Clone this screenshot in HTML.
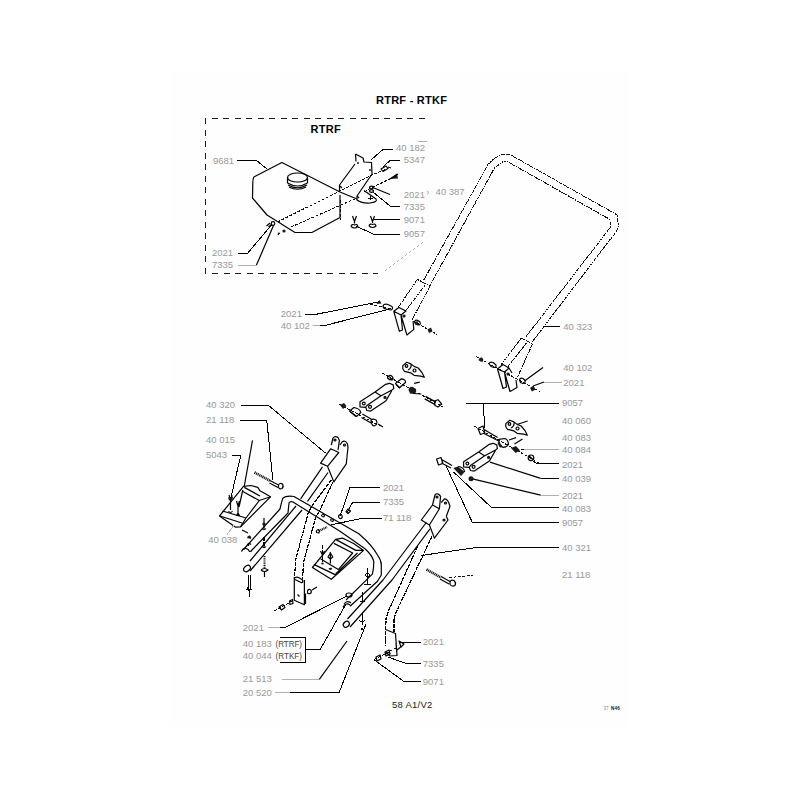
<!DOCTYPE html>
<html><head><meta charset="utf-8"><style>
html,body{margin:0;padding:0;background:#fff;width:800px;height:800px;overflow:hidden;}
svg{display:block;}
path,ellipse,circle,line{shape-rendering:geometricPrecision;}
.d,.q,.p,.k,.g{shape-rendering:crispEdges;}
text{font-family:"Liberation Sans",sans-serif;}
.t{font-size:9.5px;fill:#999;letter-spacing:0;}
.b{font-size:11px;font-weight:bold;fill:#000;letter-spacing:0.25px;}
.l{stroke:#000;stroke-width:1.2;fill:none;stroke-linejoin:round;}
.g{stroke:#b0b0b0;stroke-width:1;fill:none;}
.d{stroke:#111;stroke-width:1;fill:none;stroke-dasharray:2 0.6;}
.k{stroke:#1a1a1a;stroke-width:1;fill:none;stroke-dasharray:6 5.5;}
.p{stroke:#111;stroke-width:1;fill:none;stroke-dasharray:3 1.5;}
.f{fill:#1a1a1a;stroke:none;}
.q{stroke:#000;stroke-width:1.2;fill:none;stroke-dasharray:4 0.8;}
.w{stroke:#1a1a1a;stroke-width:1;fill:#fff;}
.c{shape-rendering:crispEdges;stroke-width:1;}
</style></head><body>
<svg width="800" height="800" viewBox="0 0 800 800">
<rect x="170" y="72" width="459" height="655" fill="#fefefe"/>
<!-- headers -->
<text class="b" x="376" y="103.8">RTRF - RTKF</text>
<text class="b" x="310.6" y="133.4">RTRF</text>
<!-- dashed box -->
<path class="k" d="M205.5 273.5 V118.5 H428"/>
<path class="k" d="M212 273.5 H378"/>

<!-- TANK 9681 -->
<path class="l" d="M253.8 177 L281.9 162.5 L340 192"/>
<path class="l" d="M253.8 177 Q252.8 179 252.8 183 L252.5 198 L267 215 L295 232.5 L311.9 232.5 L340 217.5 L340 195"/>
<ellipse class="l" cx="297.5" cy="177.5" rx="10" ry="4.5"/>
<path class="l" d="M287.5 177.5 V183 M307.5 177.5 V183 M287.5 183 Q297.5 189 307.5 183 M288 185 Q297.5 190.5 307 185 M289 187 Q297.5 191.5 306 187"/>
<path class="p" d="M277.5 222 L372 175 L386 169"/>
<path class="p" d="M291 227 L357 198"/>
<path class="p" d="M340 200 V220"/>
<!-- bracket 40 182 -->
<path class="l" d="M355.5 154 L363 158 L364 162 L371.5 162.5 L372 174 L357 196 L357 200 Q362 203.5 370 203 Q378 202 376 199 L364 190.5"/>
<path class="l" d="M355.5 154 L356 161.5 M355 164 L339.5 185 L339.5 191 M340 192 L357 199 M340 186 L342 188 M357 196 L359 198"/>
<circle class="f" cx="358" cy="163" r="1"/><circle class="f" cx="370" cy="170" r="1"/><path class="l c" d="M368 198 H373 M370.5 196 V200"/>
<path class="p" d="M395 176.5 L372 187.5 L364 192"/>
<!-- small parts box -->
<path class="l" d="M381 169 L386 166 L388 168.5 L383 171.5 Z M388 167 L391 168"/>
<path class="f" d="M389.5 179 L397 173.5 L398 178.5 Z"/><path class="l" d="M389 179.5 L398 174"/>
<ellipse class="l" cx="371.5" cy="187.5" rx="2" ry="1.3"/><ellipse class="l" cx="371.5" cy="191" rx="2" ry="1.3"/>
<path class="l" d="M352.5 216 L354.5 221.5 L356.5 216 M354.5 221.5 V223.5 M351 226.5 Q352 223.5 354.5 225 Q357 223.5 358 226.5 Q354.5 229.5 351 226.5 M370.5 216 L372.5 221.5 L374.5 216 M372.5 221.5 V223 M369 226 Q370 223 372.5 224.5 Q375 223 376 226 Q372.5 229 369 226"/>
<path class="l" d="M266.5 226 L270 223 M268.5 227 L272 224"/><circle class="l" cx="273" cy="223.5" r="1.8"/><path class="l" d="M278.5 235 Q277.5 232.5 280 233.5"/><circle class="f" cx="284" cy="231" r="1.6"/>
<!-- tank leaders -->
<path class="l c" d="M237.3 160.3 H256.3 L267.5 169.4"/>
<path class="l c" d="M237.6 253.2 H247.6 L271.8 224.6"/>
<path class="g" d="M237.6 265.2 H256.4"/><path class="l" d="M256.4 265.2 L273.5 225.5"/>
<path class="l c" d="M371 160 L383 149.5 H392.5"/>
<path class="l c" d="M383 167 L390 160.5 H400"/>
<path class="l" d="M374 188 L390 194.5"/>
<path class="l c" d="M373 192 L390 206 H400"/>
<path class="l c" d="M373 219.4 H400"/>
<path class="l c" d="M356 226 L373 234 H400"/>
<path class="g" d="M417.5 141.5 H427.3"/>
<!-- faint dotted leader -->
<path class="g" stroke-dasharray="2 3" d="M385 270.6 L425 241"/>
<text class="t" x="213" y="163.8">9681</text>
<text class="t" x="212" y="256">2021</text>
<text class="t" x="212" y="268">7335</text>
<text class="t" x="396" y="150.6">40 182</text>
<text class="t" x="403.8" y="163.1">5347</text>
<text class="t" x="403.8" y="198">2021</text>
<path d="M427 191 L429 192.5 L427 194" stroke="#aaa" fill="none"/>
<text class="t" x="435.6" y="195">40 387</text>
<text class="t" x="403.8" y="210">7335</text>
<text class="t" x="403.8" y="222.8">9071</text>
<text class="t" x="403.8" y="237">9057</text>

<!-- HANDLE -->
<path class="d" d="M423.8 280 L488.1 164.4 L493.8 158.8 L501.9 154.4 L509.7 154.4 L616.3 214.4 L617.8 216.9 L618.1 226.3 L616.9 230.6 L531.8 342.5"/>
<path class="d" d="M430 285.5 L494.4 168.1 L502.5 161.9 L507.5 161.6 L608.8 218.8 L610 221.3 L610.3 227.5 L608.8 229.4 L525 338"/>
<!-- left sleeve & bracket -->
<path class="d" d="M417.5 279.4 L430 286.3 M417.5 279.4 L398.1 307.5 M430 286.3 L411.3 321.3 M425 285.5 L405 311.3"/>
<path class="l" d="M393.8 311.3 L398.8 307.5 L406 311 L401 315 Z M393.8 311.3 L399.4 331.3 L402.5 330 L401 315 M401 315 L406.9 335 L413.8 329.4 L413.1 321.3"/>
<circle class="l" cx="404" cy="316" r="1"/>
<path class="p" d="M370 304.4 L392 309 M413 321 L437 334.4"/>
<path class="f" d="M376.5 304 L379.5 300 L381.5 303.5 Z"/><path class="l" d="M383 306 Q384 303.5 388 304.5 L392 306.5 Q393.5 309 391 310 L386 309 Q383 308.5 383 306 Z"/>
<path class="l" d="M414.5 322 Q415 319.5 418 320.5 L420 322 Q421 325 418.5 325 L416 324.5 Z"/><path class="f" d="M415 322 L417.5 321 L418.5 324.5 L416 325 Z M427.5 329.5 L431 327.5 L432.5 331.5 L429 333 Z"/>
<!-- right sleeve & bracket -->
<path class="d" d="M521.3 338 L532.5 344 M521.3 338 L501 365 M532.5 344 L517.5 377 M528 341 L507 368"/>
<path class="l" d="M497.5 369 L503 364.5 L509 368 L504.5 372 Z M497.5 369 L503 388.5 L506.5 387 L504.5 372 M505 374 L510 391.5 L517 387.5 L516 380 M509 368 L512 373"/>
<circle class="l" cx="508" cy="374" r="1"/>
<path class="p" d="M475.8 356.3 L540.5 392.1"/>
<path class="f" d="M478.5 360 Q479 357 482 357.5 Q484 359 483 361.5 Q480.5 362.5 478.5 360 Z"/><path class="l" d="M489 363.5 Q490 361.5 493 362.5 L496 365 Q496.5 367.5 494 367.5 L491 366.5 Z"/><path class="l" d="M519.5 380 Q520 377.5 523 378.5 L525 380.5 Q525.5 383.5 523 383.5 L520.5 382.5 Z"/><path class="f" d="M530 388 L533.5 385.5 L535.5 389.5 L532 391.5 Z"/>
<!-- handle leaders -->
<path class="l c" d="M304.5 314.2 H316.5 L379.5 301.8"/>
<path class="g" d="M312.8 325.5 H320"/><path class="l c" d="M320 325.5 H324.8 L388.5 309.3"/>
<path class="l c" d="M543.8 326 H560.3"/>
<path class="l" d="M543 367.6 L524.8 380.8"/>
<path class="l" d="M533 386 L544 382"/><path class="g" d="M544 382 H561.5"/>
<text class="t" x="280.8" y="317.2">2021</text>
<text class="t" x="280.8" y="328.8">40 102</text>
<text class="t" x="563.3" y="329.8">40 323</text>
<text class="t" x="563.3" y="371">40 102</text>
<text class="t" x="563.3" y="386">2021</text>

<!-- MIDDLE LINKAGE -->
<path class="l" d="M402.8 365.6 L406.8 362.3 L410.9 363.9 L414.1 366.4 L418.2 368 L422.2 372.9 L424.3 377.3 L420.6 376.1 L414.1 375.3 L410.9 372.9 L404.4 371.3 L402.8 368.8 Z M410.9 363.9 Q412 368 408 370"/>
<circle class="l" cx="406.5" cy="366" r="1.3"/><circle class="l" cx="414.5" cy="370.5" r="1.5"/>
<path class="p" d="M382.5 373.3 L442.5 406.6"/>
<path class="l" d="M387.5 378 Q388 375 391 375.5 Q393.5 377 393 379.5 Q390.5 381 387.5 378 Z M389.5 376.5 L391.5 379.5"/>
<path class="l" d="M395.5 383.5 L401.5 378.8 Q406 379.5 405.5 382.5 L399.5 387.8 Z"/><path class="l" stroke-width="1.6" d="M396 384.5 L400 388"/>
<path class="f" d="M408.5 390 Q409 386.5 412.5 386.8 L416 389 Q417 392.5 414 394 L410 393.5 Z"/><path class="l" d="M414.1 383.4 L419.8 382.2"/><path class="l" stroke-width="1.6" d="M413.3 393.5 L421.4 394"/>
<path class="l" d="M425.5 396.4 L436 402.1 M424.7 398.9 L435.2 404.6"/><path class="l" d="M434.4 401 L438 399.7 L441.7 404 L438 407 L435 405.5 Z"/>
<path class="l" d="M360.0 401.8 L375.0 392.1 L385.7 384.3 L389.4 383.3 L393.2 384.9 L393.8 388.6 L391.9 389.9 L380.7 396.1 L366.9 405.5 L365.7 407.4 L360.0 406.8 Z M365.7 407.4 L366.9 410.5 L370.7 411.1 L385.7 401.1 L391.9 390.5 M375.0 392.1 L381.3 396.1"/>

<circle class="l" cx="363.8" cy="403.6" r="1.4"/><circle class="l" cx="370" cy="406.8" r="1.5"/><circle class="f" cx="385" cy="397.4" r="1.6"/>
<path class="p" d="M339 404 L380 426"/>
<path class="f" d="M340 405 L344 403 L346.5 406 L343 409 Z"/>
<path class="l" d="M349.5 411 L354 407.5 Q360 408.5 360.8 412.5 L356.5 416.5 Z"/><path class="l" stroke-width="1.8" d="M350 411.5 L356 416.5"/>
<path class="l" d="M362.3 414 L372 419.5 M361.5 417.5 L371 423"/><path class="l" d="M371 420 Q374 418 376.5 420.5 Q378 424.5 374 426 Q371 425 371 420 Z M378 424 L383 427"/>

<!-- RIGHT LINKAGE -->
<path class="l c" d="M465.5 403.3 H558.8 M483 403.3 L485 428"/>
<path class="l" d="M478 428.5 L483 426 L484.8 433 L480.4 434.5 Z M484 429.5 L497.6 437.6 M483 433 L498.8 441"/>
<path class="l" d="M498.8 439.4 L505 438.5 Q508.5 440 508.4 444.5 Q507 447.3 503 447.3 L499.5 446 Z"/><path class="f" d="M498.5 441 L503 447 L500 447.5 L497.5 443 Z"/>
<path class="f" d="M511 448 L516 446 L520 450.5 L515.5 453 Z"/>
<path class="l" d="M509 440 L516 437.6 M514.5 444 L522.5 439"/>
<path class="p" d="M474 426 L539 463"/>
<circle class="l" cx="531" cy="457.8" r="2.8"/><path class="l" d="M529 456 L533 459.5"/>
<path class="l" d="M505.8 423.6 L509.8 420.3 L513.9 421.9 L517.1 424.4 L521.2 426.0 L525.2 430.9 L527.3 435.3 L523.6 434.1 L517.1 433.3 L513.9 430.9 L507.4 429.3 L505.8 426.8 Z M513.9 421.9 Q515.0 426.0 511.0 428.0"/>
<circle class="l" cx="509.5" cy="424" r="1.3"/><circle class="l" cx="517.5" cy="428.5" r="1.5"/>
<path class="l" d="M517 424.5 L527.6 421"/>
<path class="l" d="M463.6 461.8 L478.6 452.1 L489.3 444.3 L493 443.3 L496.8 444.9 L497.4 448.6 L495.5 449.9 L484.3 456.1 L470.5 465.5 L469.3 467.4 L463.6 466.8 Z M469.3 467.4 L470.5 470.5 L474.3 471.1 L489.3 461.1 L495.5 450.5 M478.6 452.1 L484.9 456.1"/>

<circle class="l" cx="467.4" cy="463.6" r="1.4"/><circle class="l" cx="473.6" cy="466.8" r="1.5"/><circle class="f" cx="488.6" cy="457.4" r="1.6"/>
<path class="l" d="M436.6 459 L441 457.5 L442.8 463.5 L438.5 465 Z M442 459.8 L452 465.5 M441.5 463 L451 468"/>
<path class="f" d="M453.3 468 L458 466.5 L464.6 472 L461 476 Z"/><path class="l" d="M458 466.5 Q464 467 464.6 472"/>
<circle class="f" cx="471" cy="478.8" r="2.5"/>
<path class="l" d="M490 462.1 L540.7 478.4 M472.5 478.8 L540.7 495.2"/>
<path class="l c" d="M520.6 449.4 H524"/><path class="g" d="M524 449.4 H558.8"/>
<path class="l c" d="M533 461 L536.3 463.1 H558.8"/>
<path class="l c" d="M540.7 478.4 H558.5"/>
<path class="g" d="M540.7 495.2 H558.5"/>
<path class="l c" d="M453.3 471.8 L491.8 507.8 H558.5"/>
<path class="l c" d="M446.3 466.5 L472.5 522.8 H558.5"/>
<text class="t" x="562" y="406">9057</text>
<text class="t" x="562" y="424">40 060</text>
<text class="t" x="562" y="441">40 083</text>
<text class="t" x="562" y="452.5">40 084</text>
<text class="t" x="562" y="468">2021</text>
<text class="t" x="562" y="482">40 039</text>
<text class="t" x="562" y="499">2021</text>
<text class="t" x="562" y="511.7">40 083</text>
<text class="t" x="562" y="526.3">9057</text>
<text class="t" x="562" y="551">40 321</text>
<text class="t" x="562" y="578.3">21 118</text>

<!-- LEFT FRAME 40 320 -->
<path class="l c" d="M240.5 405.3 H268.3 L325.6 453.1"/>
<path class="l" d="M331.3 445 L333 438 Q335 435.5 338 437.5 L339.4 440.6 L338 450 M340 445 L342 442 Q345 439.5 347.5 444 L348 447.5 L346.9 457.5"/>
<circle class="l" cx="335" cy="440" r="1"/><circle class="l" cx="344.5" cy="445" r="1"/>
<path class="l" d="M320.6 463.1 L330.6 448.8 L338.8 452.5 L327.5 466.3 Z M327.5 466.3 L333.8 481.9 L346.3 463.8 L346.9 457.5"/>
<path class="l" d="M322.5 466.9 L300.6 498.8 M328 472.5 L307.5 501.3"/>
<path class="q" d="M331.3 480 L312.5 505 L308.3 512.8 L296 558.3 L294.4 577.8 M333 482 L320 510 L315.6 517.6 L303.4 563 L302.6 578.6"/>
<path class="l" d="M294.3 577 V600.3 L304.4 604.8 V580 M294.3 578.5 Q296 576 299.5 578 L302.5 580 Q303.5 583 301 582.5 L295 579.5 M305.5 593.5 V604 M297.5 594.5 L299.5 596.5"/>
<path class="l" d="M307.5 593 Q307 589 310 589.5 Q312 590.5 311 593 Q309 594.5 307.5 593 Z M312 590 L317 587"/>
<path class="p" d="M274 611 L294 600"/>
<path class="l" d="M279 607 L283 604.5 L285 607.5 L281.5 610 Z M289.5 601 L292.5 599.5 L293 603.5 L290 604.5 Z"/>
<!-- left footplate 40 038 -->
<path class="l" d="M219.5 516 L243.5 486.3 L251 485.5 L257.8 487.4 L260 490.8 L270.5 496.8 L240.5 526.8 L235.3 527.1 Z"/>
<path class="l" d="M244.3 487.4 L260 496 M242.8 491.5 L259.3 500.5 L270.5 496.8 M259.3 500.5 L246 518 M222.5 511 L246 518 L240.5 526.8 M220 516 L242 523"/>
<path stroke="#111" stroke-width="2.6" stroke-dasharray="1.1 0.7" fill="none" d="M254.5 472.5 L270.5 481"/><path class="l" d="M270 480.5 L278.5 485 M269.5 483 L278 487.5"/><path class="l" d="M278.5 485 Q279.5 482.5 282.5 484 Q284 487 282 488.5 Q279 489.5 278.5 487 Z"/>
<path class="l c" d="M239.8 420.5 H266.8 L272.8 480"/>
<path class="l" d="M252.5 440.3 L244.3 486"/>
<path class="l c" d="M231.5 455.3 H240.8 L230.8 498"/>
<path class="l" d="M229 495 L230.5 500 L232 495 M230.5 500 V510 M228.5 511 Q230.5 514 232.5 511 M236.5 501 L238 506 L239.5 501 M238 506 V514 M236.5 515.5 L238 513 L239.5 515.5 Z M242.8 490 L239 507"/><path class="f" d="M228 497.5 L233 496.5 L232.5 500 L229 500.5 Z"/>

<path class="g" d="M227 534.5 L233.8 525.5"/><path class="l" d="M242 530 L248 533"/>
<text class="t" x="206" y="408">40 320</text>
<text class="t" x="206" y="423">21 118</text>
<text class="t" x="206" y="442.8">40 015</text>
<text class="t" x="206" y="458.3">5043</text>
<text class="t" x="208.3" y="542.8">40 038</text>

<!-- U-TUBE -->
<path class="l" d="M243.5 549.5 L280 509 Q282 500 283 498 Q286 495.5 294 496.5 L358.8 533.8 Q372 545 377.5 555 Q381.3 560 381.3 565 L381.3 575 L377.5 581.3 L350 606.3"/>
<path class="l" d="M251 551 L288 513 L289 503 Q290 501 293 502 L340 531.3 L365 548.8 Q372 555 373.8 561.3 Q373.8 568 372.5 573.8 L365 581.3 L346 600"/>
<path class="l" d="M250 561 L296 506 M250 571 L302 510"/>
<ellipse class="l" cx="247" cy="568.5" rx="3.8" ry="2.6" transform="rotate(-40 247 568.5)"/>
<path class="l" d="M241.5 551.5 Q243 548 246 548.5 Q248.5 549 249.5 551.5 L252 551 M248.5 543 V546 M247 545 Q249 542.5 251 544.5"/><path class="f" d="M247 538 Q247.5 535 250 535.5 Q252 537 251 539 Z"/>
<path class="l" d="M264 518 V529 M262 528.5 Q264 531 266 528.5 M264 546 V548 M262 546.5 Q264 549 266 546.5 M261 570 Q264.5 567 268 570 Q264.5 573 261 570 M264.5 572 V577"/><path class="q" d="M264 537 V546"/><path stroke="#111" stroke-width="2" stroke-dasharray="1 0.8" fill="none" d="M264.5 556 V568"/><path class="f" d="M262 524 Q264 521 266 524 L264 526.5 Z"/>
<path class="l c" d="M248 575 V589 M250 575 V589 M246 589 H252 M249 589 V597 M247 587 L249 591 L251 587"/>
<!-- mid footplate -->
<path class="l" d="M312.4 567.5 L335.6 539.4 L342.6 538.1 L347 540.3 L354 543.8 L363.6 550.4 L331.3 579.3 Z M335.6 539.4 L355.8 550.4 L363.6 550.4 M333.9 543.4 L352.7 553 L338.3 569.6 M320.8 559.1 L338.3 569.6 M313.8 564.4 L335.6 574.9 M357.5 553 L335.6 574"/>
<path class="q" d="M322.5 545 V562"/><path class="l" d="M320.5 551 L322.5 555 L324.5 551 M330.4 552 V563.5 M328 557 L330.4 553 L332.8 557 L330.4 559 Z"/><ellipse class="f" cx="330.4" cy="568.8" rx="1.8" ry="1.1"/><ellipse class="f" cx="322.5" cy="563.5" rx="1.3" ry="1"/>
<path class="l c" d="M367.5 568 V584 M365 575 Q367.5 571 370 575 L368 578 Z M364 584 H371"/>
<!-- right clamp & tube -->
<path class="l" d="M426.3 522.5 L383 580 L347.5 619 M430 528.8 L392 580 L350 627"/>
<ellipse class="l" cx="346.3" cy="624.3" rx="3.3" ry="2.6" transform="rotate(-40 346.3 624.3)"/>
<ellipse class="l" cx="349" cy="595" rx="3" ry="2" /><path class="l" d="M344 604 Q347 600 351 603 M343 607 Q346 602 350 605"/>
<path class="l c" d="M362 592 V601 M360 601 H365 M362 612 V625 M359 620 Q362 624 365 620 M361 628 Q362 632 363 628"/>
<!-- left frame mid tubes/leaders -->
<path class="l c" d="M380 487.5 H350 L340 516.3 M380 502.5 H352.5 L347.5 511.9 M382 518 H364 L331 524.8"/>
<path class="l" d="M338.5 516.5 Q339 514 341.5 514.5 Q343 516.5 341.5 518.5 Q339 519 338.5 516.5 Z M346 511.5 L348 509 L350.5 511 L348 513.5 Z"/><path stroke="#111" stroke-width="2.2" stroke-dasharray="1 0.7" fill="none" d="M319 531 L327 527"/><path class="l" d="M316.5 532.5 Q316 530 318.5 529.5 Q320 531 319 533 Z"/>
<path class="l" d="M321.5 515.5 Q323 513 324.5 515.5 Q323.5 518.5 321.5 515.5 Z M330.5 520 Q332 517.5 333.5 520 Q332.5 523 330.5 520 Z"/>
<text class="t" x="383" y="490.6">2021</text>
<text class="t" x="383" y="505">7335</text>
<text class="t" x="383" y="520.6">71 118</text>

<!-- RIGHT FRAME 40 321 -->
<path class="l" d="M432.5 505 L435 495 Q437.5 492 440.6 496.3 L439.4 508.8 M441.3 502.5 L444.4 498.8 Q448 498.5 450 506.3 L446.3 516.3"/>
<circle class="l" cx="437" cy="497" r="1"/><circle class="l" cx="445.5" cy="503" r="1"/><circle class="l" cx="444" cy="520" r="1"/>
<path class="l" d="M421.3 520 L432.5 505 L439.4 508.8 L429.4 525 Z M429.4 525 L434.4 538.1 L448 520 L446.3 516.3"/>
<path class="q" d="M417.5 546.3 L402.5 580 L388.6 610.6 L386 618.5 L385.5 646.5 M431.9 536.3 L411.3 580 L396.5 611.5 L394 618.5 L394 632"/>
<path class="l" d="M385.5 629.5 L395.5 633.5 L397 655.5 L390 656 L386 652 M396 643 L397 655"/>
<path class="l" d="M397 650 L402 646 M399 641 L404 644 L401 647 Z"/>
<path class="p" d="M374 659.6 L396 648"/>
<path class="l" d="M376 657 L380 655 L381 659 L377 661 Z M385 652 L389 650 L390 654 L386 656 Z"/>
<path class="l c" d="M421.3 555.5 L474 547.8 H558.5"/>
<path stroke="#111" stroke-width="2.6" stroke-dasharray="1.1 0.7" fill="none" d="M426.5 569.5 L441 577.5"/><path class="l" d="M441 576.5 L450 581.5 M440 579 L449 584"/><path class="l" d="M450 582 Q451 579.5 454 580.5 Q456.5 583 455 585.5 Q452 587 450 584.5 Z"/>
<path class="p" d="M449 577.5 L473 575.5"/>
<path class="l c" d="M400 642.1 H421"/>
<path class="l c" d="M387.8 657 L405.3 663.1 H421"/>
<path class="l c" d="M373.8 659.6 L403.5 681.2 H421"/>
<text class="t" x="422.8" y="644.8">2021</text>
<text class="t" x="422.8" y="666.6">7335</text>
<text class="t" x="422.8" y="685">9071</text>

<!-- bottom leaders -->
<path class="g" d="M268.3 627.2 H280"/><path class="l c" d="M280 627.2 H285.5 L347 596"/>
<path class="l c" d="M279.5 637.7 H305.8 V662 H279.5 M305.8 649.7 H320 L345.5 605"/>
<path class="g" d="M281.8 679.3 H319.3"/><path class="l" d="M319.3 679.3 L347 641"/>
<path class="g" d="M275 692.8 H290"/><path class="l c" d="M290 692.8 H339 L366 624"/>
<text class="t" x="242.8" y="630.8">2021</text>
<text class="t" x="242.8" y="647">40 183</text><text class="t" x="275.5" y="647" textLength="26.5" lengthAdjust="spacingAndGlyphs" style="fill:#444">(RTRF)</text>
<text class="t" x="242.8" y="659">40 044</text><text class="t" x="275.5" y="659" textLength="26.5" lengthAdjust="spacingAndGlyphs" style="fill:#444">(RTKF)</text>
<text class="t" x="242.8" y="682.3">21 513</text>
<text class="t" x="242.8" y="695.8">20 520</text>
<text x="392" y="707.8" style="font-size:9.5px;fill:#222;letter-spacing:0.25px">58 A1/V2</text>
<text x="603.5" y="710" style="font-size:4.5px;fill:#888">37</text><text x="611" y="710" style="font-size:4.5px;font-weight:bold;fill:#111;letter-spacing:0.2px">N46</text>
</svg>
</body></html>
